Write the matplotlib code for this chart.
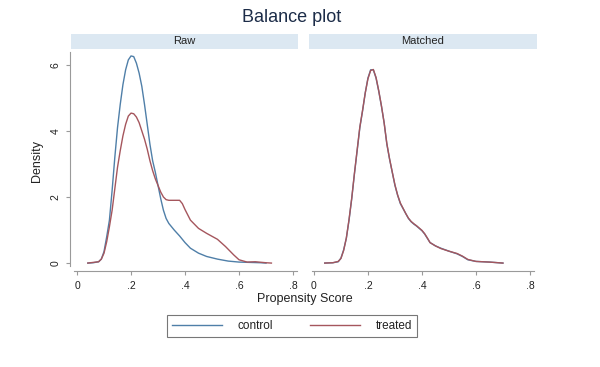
import matplotlib
matplotlib.use("Agg")
import matplotlib.pyplot as plt
from matplotlib.lines import Line2D

# ---- data ----
raw_control_x = [0.04,0.06,0.08,0.09,0.10,0.11,0.12,0.13,0.14,0.15,0.16,0.17,0.18,0.19,0.20,0.21,0.22,0.23,0.24,0.25,0.26,0.27,0.28,0.29,0.30,0.31,0.32,0.33,0.34,0.36,0.38,0.40,0.42,0.45,0.48,0.52,0.56,0.60,0.64,0.68,0.70]
raw_control_y = [0.0,0.01,0.04,0.12,0.35,0.8,1.3,2.2,3.2,4.1,4.8,5.4,5.85,6.15,6.27,6.25,6.05,5.75,5.35,4.8,4.2,3.6,3.1,2.75,2.35,1.95,1.6,1.35,1.2,1.0,0.82,0.62,0.45,0.3,0.2,0.12,0.06,0.03,0.02,0.01,0.0]

raw_treated_x = [0.04,0.08,0.09,0.10,0.11,0.12,0.13,0.14,0.15,0.16,0.17,0.18,0.19,0.20,0.21,0.22,0.23,0.24,0.25,0.26,0.27,0.28,0.29,0.30,0.31,0.32,0.33,0.34,0.36,0.38,0.39,0.40,0.42,0.45,0.48,0.52,0.55,0.58,0.60,0.63,0.66,0.70,0.72]
raw_treated_y = [0.0,0.04,0.12,0.3,0.65,1.1,1.6,2.25,2.9,3.4,3.85,4.2,4.45,4.54,4.52,4.42,4.25,4.0,3.75,3.45,3.1,2.8,2.55,2.35,2.15,2.0,1.92,1.9,1.9,1.9,1.8,1.62,1.3,1.05,0.9,0.72,0.5,0.25,0.1,0.03,0.04,0.01,0.0]

matched_control_x = [0.04,0.07,0.09,0.10,0.11,0.12,0.13,0.14,0.15,0.16,0.17,0.18,0.19,0.20,0.21,0.22,0.23,0.24,0.25,0.26,0.27,0.28,0.29,0.30,0.31,0.32,0.33,0.34,0.35,0.36,0.37,0.38,0.39,0.40,0.41,0.42,0.43,0.45,0.47,0.50,0.53,0.55,0.57,0.60,0.65,0.70]
matched_control_y = [0.0,0.01,0.04,0.15,0.4,0.75,1.3,1.95,2.7,3.4,4.1,4.6,5.15,5.6,5.85,5.85,5.6,5.2,4.75,4.25,3.6,3.15,2.75,2.35,2.05,1.8,1.65,1.5,1.35,1.25,1.18,1.12,1.05,0.98,0.88,0.75,0.62,0.52,0.45,0.36,0.28,0.2,0.1,0.05,0.03,0.0]

matched_treated_x = [0.04,0.07,0.09,0.10,0.11,0.12,0.13,0.14,0.15,0.16,0.17,0.18,0.19,0.20,0.21,0.22,0.23,0.24,0.25,0.26,0.27,0.28,0.29,0.30,0.31,0.32,0.33,0.34,0.35,0.36,0.37,0.38,0.39,0.40,0.41,0.42,0.43,0.45,0.47,0.50,0.53,0.55,0.57,0.60,0.65,0.70]
matched_treated_y = [0.0,0.01,0.05,0.14,0.38,0.76,1.32,1.97,2.72,3.42,4.12,4.62,5.15,5.58,5.83,5.86,5.62,5.22,4.76,4.24,3.62,3.16,2.76,2.37,2.06,1.82,1.66,1.5,1.36,1.26,1.19,1.13,1.06,0.99,0.89,0.76,0.62,0.52,0.44,0.36,0.29,0.21,0.11,0.05,0.03,0.0]

panel_titles = ["Raw", "Matched"]
series_labels = ["control", "treated"]
x_ticks = [0, 0.2, 0.4, 0.6, 0.8]
x_tick_labels = ["0", ".2", ".4", ".6", ".8"]
y_ticks = [0, 2, 4, 6]
y_tick_labels = ["0", "2", "4", "6"]

# ---- styling ----
plt.rcParams["font.family"] = ["Liberation Sans", "DejaVu Sans"]
W, H = 600, 367
fig = plt.figure(figsize=(6, 3.67), dpi=100)
fig.patch.set_facecolor("white")
c_control = "#4f7fa8"
c_treated = "#a5565d"
axis_col = "#9a9a9a"
strip_col = "#dce8f2"
text_col = "#222222"

def fx(px):
    return px / W

def fy(py):
    return 1 - py / H

panels = [(70, 298, -0.026), (308, 537, -0.022)]
top, bottom = 50, 271
data = [
    (raw_control_x, raw_control_y, raw_treated_x, raw_treated_y),
    (matched_control_x, matched_control_y, matched_treated_x, matched_treated_y),
]

for i, ((l, r, x0), (cx, cy, tx, ty)) in enumerate(zip(panels, data)):
    ax = fig.add_axes([fx(l), fy(bottom), fx(r - l), (bottom - top) / H])
    ax.plot(cx, cy, color=c_control, lw=1.0)
    ax.plot(tx, ty, color=c_treated, lw=1.0)
    ax.set_xlim(x0, x0 + (r - l) / 270.0)
    ax.set_ylim(-0.24, 6.45)
    for s in ["top", "right"]:
        ax.spines[s].set_visible(False)
    ax.spines["bottom"].set_color(axis_col)
    ax.spines["left"].set_color(axis_col)
    ax.spines["bottom"].set_bounds(x0 + 0.015, 0.815)
    ax.set_xticks(x_ticks)
    ax.set_xticklabels(x_tick_labels, fontsize=7.5, color=text_col)
    ax.tick_params(axis="x", colors=axis_col, labelcolor=text_col, length=3, pad=4)
    if i == 0:
        ax.spines["left"].set_bounds(-0.1, 6.4)
        ax.set_yticks(y_ticks)
        ax.set_yticklabels(y_tick_labels, fontsize=7.5, color=text_col, rotation=90, va="center")
        ax.tick_params(axis="y", colors=axis_col, labelcolor=text_col, length=3, pad=4)
        ax.set_ylabel("Density", fontsize=9, color=text_col, labelpad=5)
    else:
        ax.spines["left"].set_visible(False)
        ax.set_yticks([])
    # strip
    sax = fig.add_axes([fx(l + 1), fy(49), fx(r - l - 1), 15 / H])
    sax.set_facecolor(strip_col)
    for s in sax.spines.values():
        s.set_visible(False)
    sax.set_xticks([]); sax.set_yticks([])
    sax.text(0.5, 0.5, panel_titles[i], ha="center", va="center", fontsize=8, color=text_col, transform=sax.transAxes)

fig.text(fx(292), fy(18), "Balance plot", ha="center", va="center", fontsize=13, color="#1c2c48")
fig.text(fx(305), fy(299), "Propensity Score", ha="center", va="center", fontsize=9, color=text_col)

# legend
handles = [Line2D([0], [0], color=c_control, lw=1.0), Line2D([0], [0], color=c_treated, lw=1.0)]
leg = fig.legend(handles, series_labels, loc="center", bbox_to_anchor=(fx(292), fy(326)),
                 ncol=2, fontsize=8.5, frameon=True, fancybox=False, edgecolor="#555555",
                 handlelength=4.2, columnspacing=3.2, handletextpad=1.3, borderpad=0.45)
leg.get_frame().set_linewidth(0.8)
for t in leg.get_texts():
    t.set_color(text_col)

fig.savefig("out.png", dpi=100, facecolor="white")
